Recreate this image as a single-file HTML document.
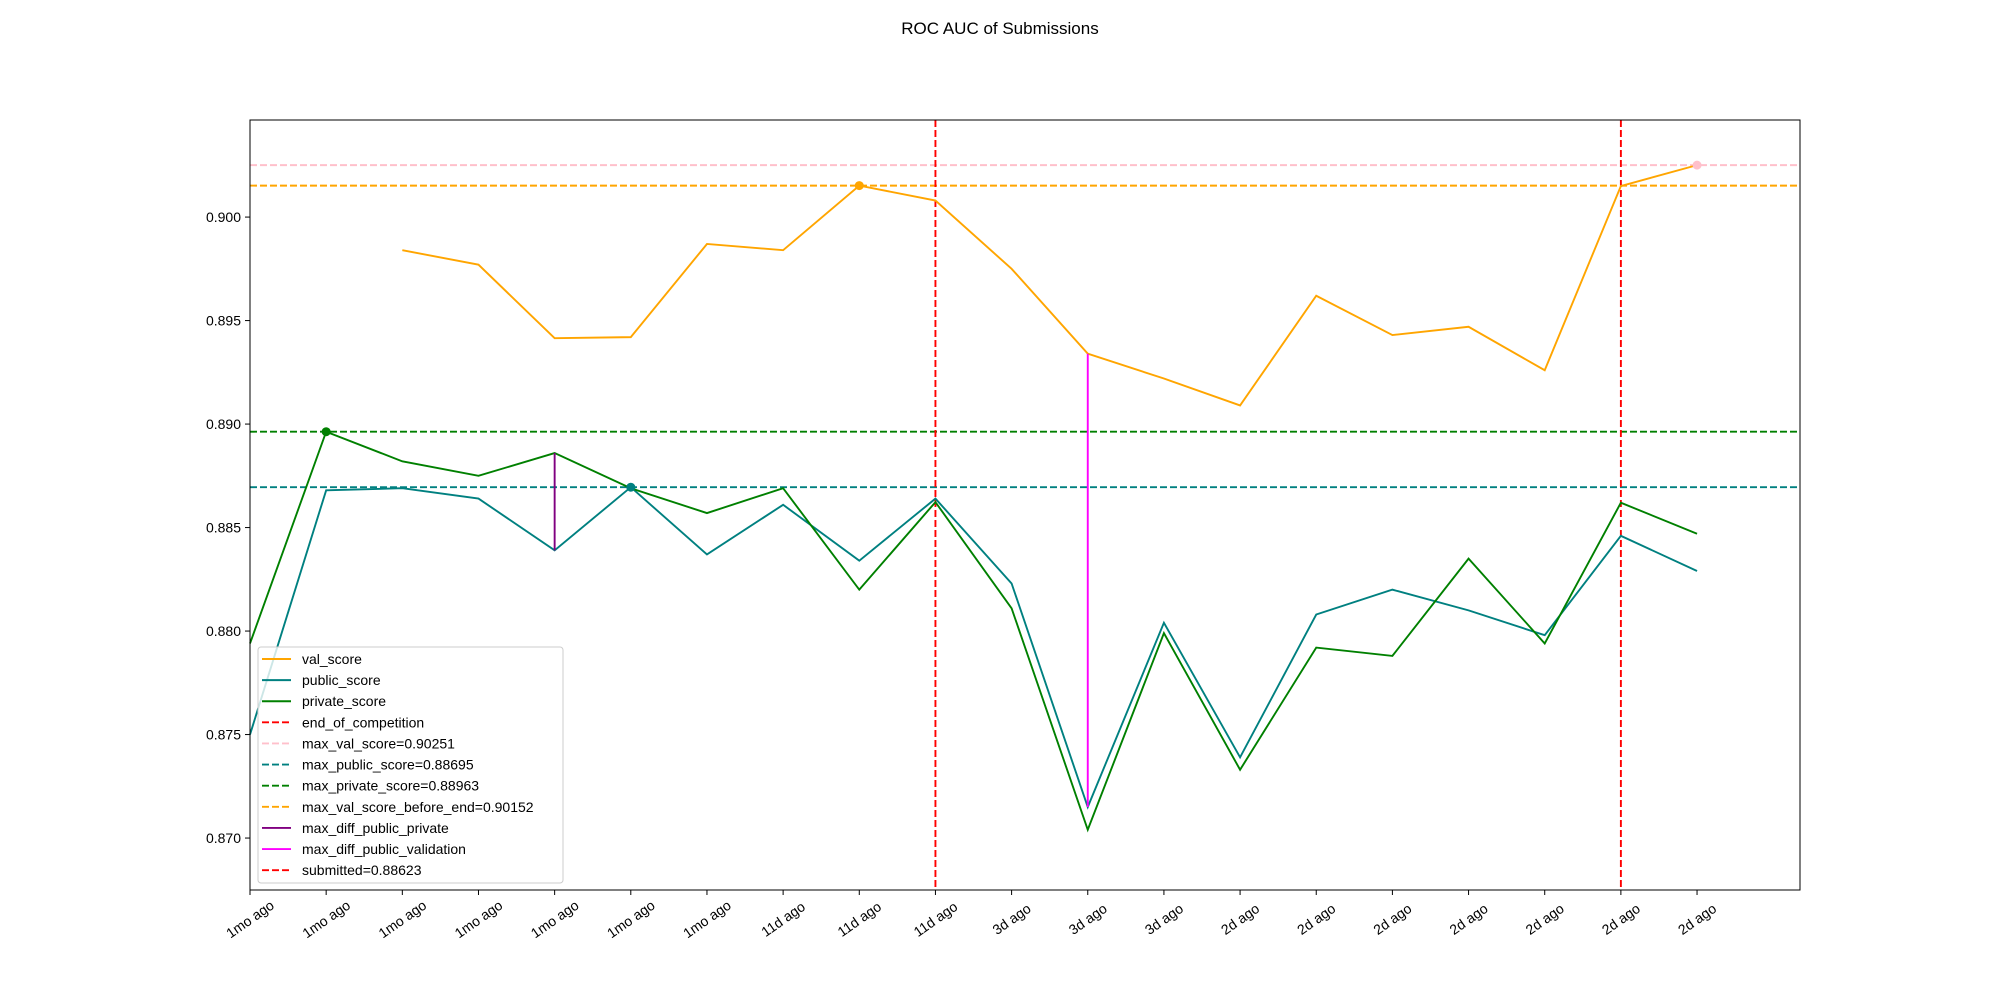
<!DOCTYPE html>
<html><head><meta charset="utf-8"><style>
body{margin:0;background:#fff;}
svg{display:block;font-family:"Liberation Sans","DejaVu Sans",sans-serif;}
</style></head><body>
<svg id="chart" width="2000" height="1000" viewBox="0 0 2000 1000" xmlns="http://www.w3.org/2000/svg">
<rect width="2000" height="1000" fill="#fff"/>
<text x="1000" y="34" text-anchor="middle" font-size="17">ROC AUC of Submissions</text>
<g id="plot"></g>
<rect x="250" y="120" width="1550" height="770" fill="none" stroke="#000" stroke-width="1"/>
</svg>
<script>
const categories=["1mo ago","1mo ago","1mo ago","1mo ago","1mo ago","1mo ago","1mo ago","11d ago","11d ago","11d ago","3d ago","3d ago","3d ago","2d ago","2d ago","2d ago","2d ago","2d ago","2d ago","2d ago"];
const valScore=[null,null,0.8984,0.8977,0.89415,0.8942,0.8987,0.8984,0.90152,0.9008,0.8975,0.8934,0.8922,0.8909,0.8962,0.8943,0.8947,0.8926,0.9015,0.90251];
const publicScore=[0.8750,0.8868,0.8869,0.8864,0.8839,0.88695,0.8837,0.8861,0.8834,0.8864,0.8823,0.8715,0.8804,0.8739,0.8808,0.8820,0.8810,0.8798,0.8846,0.8829];
const privateScore=[0.8794,0.88963,0.8882,0.8875,0.8886,0.8869,0.8857,0.8869,0.8820,0.88623,0.8811,0.8704,0.8799,0.8733,0.8792,0.8788,0.8835,0.8794,0.8862,0.8847];
const yTicks=[0.870,0.875,0.880,0.885,0.890,0.895,0.900];
const endIndex=9, submittedIndex=18, diffPrivIndex=4, diffValIndex=11;
const maxVal=0.90251, maxPublic=0.88695, maxPrivate=0.88963, maxValBeforeEnd=0.90152;

const L=250,R=1800,T=120,B=890,yMin=0.86749,yMax=0.90469,xStep=76.16;
const X=i=>L+i*xStep;
const Y=v=>B-(v-yMin)/(yMax-yMin)*(B-T);
const ns="http://www.w3.org/2000/svg";
const g=document.getElementById('plot');
function mk(tag,attrs,parent){const e=document.createElementNS(ns,tag);for(const k in attrs)e.setAttribute(k,attrs[k]);(parent||g).appendChild(e);return e;}

[[maxVal,'pink','max-val-line'],[maxValBeforeEnd,'orange','max-val-before-end-line'],[maxPrivate,'green','max-private-line'],[maxPublic,'teal','max-public-line']].forEach(([v,c,n])=>{
  const e=mk('line',{x1:L,x2:R,y1:Y(v),y2:Y(v),stroke:c,'stroke-width':1.9,'stroke-dasharray':'7,3'});
  
  
});
[[endIndex,'end-of-competition-line'],[submittedIndex,'submitted-line']].forEach(([i,n])=>{
  const e=mk('line',{x1:X(i),x2:X(i),y1:T,y2:B,stroke:'red','stroke-width':1.9,'stroke-dasharray':'7,3'});
  
  
});
function series(arr,color,name){
  let d='';arr.forEach((v,i)=>{if(v==null)return;d+=(d?'L':'M')+X(i)+','+Y(v);});
  const e=mk('path',{d:d,fill:'none',stroke:color,'stroke-width':1.9});
  
  
}
series(valScore,'orange','val-score-line');
series(publicScore,'teal','public-score-line');
series(privateScore,'green','private-score-line');
const d1=mk('line',{x1:X(diffPrivIndex),x2:X(diffPrivIndex),y1:Y(publicScore[diffPrivIndex]),y2:Y(privateScore[diffPrivIndex]),stroke:'purple','stroke-width':1.9});


const d2=mk('line',{x1:X(diffValIndex),x2:X(diffValIndex),y1:Y(publicScore[diffValIndex]),y2:Y(valScore[diffValIndex]),stroke:'magenta','stroke-width':1.9});


function argmax(a){let b=-1,bi=0;a.forEach((v,i)=>{if(v!=null&&v>b){b=v;bi=i;}});return bi;}
const vb=valScore.slice(0,endIndex).reduce((b,v,i)=>(v!=null&&v>valScore[b]?i:b),2);
[[vb,valScore,'orange','max-val-before-end-marker'],[argmax(valScore),valScore,'pink','max-val-marker'],[argmax(privateScore),privateScore,'green','max-private-marker'],[argmax(publicScore),publicScore,'teal','max-public-marker']].forEach(([i,a,c,n])=>{
  const e=mk('circle',{cx:X(i),cy:Y(a[i]),r:4.5,fill:c});
  
  
});
yTicks.forEach(v=>{
  const t=mk('line',{x1:L-5,x2:L,y1:Y(v),y2:Y(v),stroke:'#000'});
  
  
  const tx=mk('text',{x:L-9,y:Y(v)+5,'text-anchor':'end','font-size':14});
  tx.textContent=v.toFixed(3);
  
  
});
categories.forEach((c,i)=>{
  const t=mk('line',{x1:X(i),x2:X(i),y1:B,y2:B+5,stroke:'#000'});
  
  
  const cy=B+29;
  const tx=mk('text',{x:X(i),y:cy,'text-anchor':'middle','dominant-baseline':'central','font-size':14,transform:`rotate(-35 ${X(i)} ${cy})`});
  tx.textContent=c;
  
  
});
const leg=mk('g',{});


mk('rect',{x:258,y:647,width:305,height:236,rx:3,fill:'#fff','fill-opacity':0.8,stroke:'#ccc'},leg);
const entries=[['val_score','orange',false],['public_score','teal',false],['private_score','green',false],['end_of_competition','red',true],['max_val_score=0.90251','pink',true],['max_public_score=0.88695','teal',true],['max_private_score=0.88963','green',true],['max_val_score_before_end=0.90152','orange',true],['max_diff_public_private','purple',false],['max_diff_public_validation','magenta',false],['submitted=0.88623','red',true]];
entries.forEach(([lab,c,dash],k)=>{
  const y=659+k*17.6*12/10;
  const ln=mk('line',{x1:262,x2:291,y1:y,y2:y,stroke:c,'stroke-width':1.9,'stroke-dasharray':dash?'7,3':'none'},leg);
  
  
  const tx=mk('text',{x:302,y:y+5,'font-size':14},leg);
  tx.textContent=lab;
  
  
});
</script>
</body></html>
